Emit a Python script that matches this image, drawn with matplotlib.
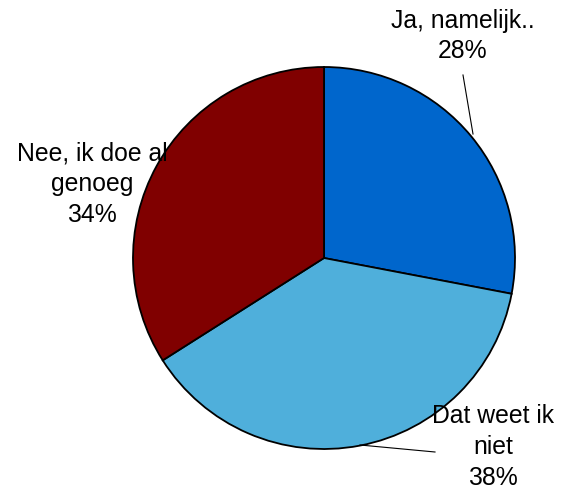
import matplotlib.pyplot as plt

labels = ['Ja, namelijk..', 'Dat weet ik\nniet', 'Nee, ik doe al\ngenoeg']
values = [28, 38, 34]
colors = ['#0066CC', '#4FAFDB', '#800000']

plt.rcParams['font.family'] = ['Liberation Sans', 'DejaVu Sans']

fig = plt.figure(figsize=(5.63, 4.93), dpi=100)
ax = fig.add_axes([0, 0, 1, 1])
ax.set_xlim(0, 563)
ax.set_ylim(0, 493)
ax.set_aspect('equal')
ax.axis('off')

H = 493
ax.pie(values, colors=colors, startangle=90, counterclock=False,
       center=(324, H - 258), radius=191,
       wedgeprops=dict(edgecolor='black', linewidth=1.3))
ax.set_xlim(0, 563)
ax.set_ylim(0, H)

# labels with percentages
pos = [(463, 36), (493, 447), (92, 184)]
for lab, v, (x, y) in zip(labels, values, pos):
    ax.text(x, H - y, f'{lab}\n{v}%', ha='center', va='center',
            fontsize=17.8, linespacing=1.35, color='black')

# leader lines
ax.plot([463, 473], [H - 75, H - 134], color='black', lw=0.8)
ax.plot([360, 435], [H - 445, H - 452], color='black', lw=0.8)

plt.savefig('out.png', dpi=100)
